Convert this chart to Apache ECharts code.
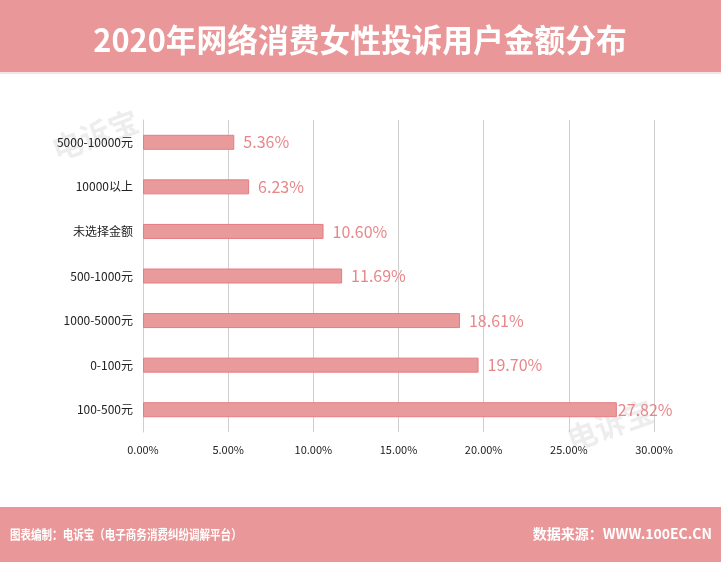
<!DOCTYPE html>
<html><head><meta charset="utf-8">
<script src="https://cdn.jsdelivr.net/npm/echarts@6/dist/echarts.min.js"></script>
<style>html,body{margin:0;padding:0;background:#fff}#c{width:721px;height:562px}</style>
</head><body><div id="c"></div>
<script>
const categories = ['5000-10000元','10000以上','未选择金额','500-1000元','1000-5000元','0-100元','100-500元'];
const values = [5.36, 6.23, 10.60, 11.69, 18.61, 19.70, 27.82];
const xTicks = [0, 5, 10, 15, 20, 25, 30];
const titleText = '2020年网络消费女性投诉用户金额分布';
const footLeft = '图表编制：电诉宝（电子商务消费纠纷调解平台）';
const footRight = '数据来源：WWW.100EC.CN';

const pink = '#E99798';
const chart = echarts.init(document.getElementById('c'));
const font = '"Noto Sans CJK SC","Noto Sans",sans-serif';
chart.setOption({
  backgroundColor: '#fff',
  animation: false,
  textStyle: {fontFamily: font},
  graphic: [
    {type:'rect', shape:{x:0,y:0,width:721,height:72}, style:{fill:pink}},
    {type:'rect', shape:{x:0,y:72,width:721,height:2}, style:{fill:'#f6e4e4'}},
    {type:'text', x:360, y:40, scaleX:0.96, style:{text:titleText, fill:'#fff', font:'bold 32px '+font, textAlign:'center', textVerticalAlign:'middle'}},
    {type:'rect', shape:{x:0,y:507,width:721,height:55}, style:{fill:pink}},
    {type:'text', x:10, y:534, scaleX:0.81, style:{text:footLeft, fill:'#fff', font:'bold 13px '+font, textAlign:'left', textVerticalAlign:'middle'}},
    {type:'text', x:712, y:534, style:{text:footRight, fill:'#fff', font:'bold 14px '+font, textAlign:'right', textVerticalAlign:'middle'}},
    {type:'text', x:95, y:135, rotation:0.35, z:-1, style:{text:'电诉宝', fill:'rgba(0,0,0,0.07)', font:'bold 30px '+font, textAlign:'center', textVerticalAlign:'middle'}},
    {type:'text', x:610, y:425, rotation:0.35, z:-1, style:{text:'电诉宝', fill:'rgba(0,0,0,0.07)', font:'bold 30px '+font, textAlign:'center', textVerticalAlign:'middle'}}
  ],
  grid: {left:143, right:67, top:120, height:312, containLabel:false},
  xAxis: {
    type:'value', min:xTicks[0], max:xTicks[xTicks.length-1], interval:5,
    axisLine:{show:false}, axisTick:{show:false},
    splitLine:{show:true, lineStyle:{color:'#cfcfcf', width:1}},
    axisLabel:{color:'#222', fontSize:11, margin:12, formatter: v => v.toFixed(2)+'%'}
  },
  yAxis: {
    type:'category', data:categories, inverse:true,
    axisLine:{show:true, lineStyle:{color:'#cfcfcf'}}, axisTick:{show:false},
    axisLabel:{color:'#222', fontSize:12, margin:10}
  },
  series: [{
    type:'bar', barWidth:15,
    data: values.map((v,i)=>({value:v, label:{distance: i===values.length-1 ? 1 : 9}})),
    itemStyle:{color:'#E99A9A', borderColor:'#E57C82', borderWidth:1},
    label:{show:true, position:'right', color:'#E8878A', fontSize:16, formatter: p => p.value.toFixed(2)+'%'}
  }]
});
</script></body></html>
